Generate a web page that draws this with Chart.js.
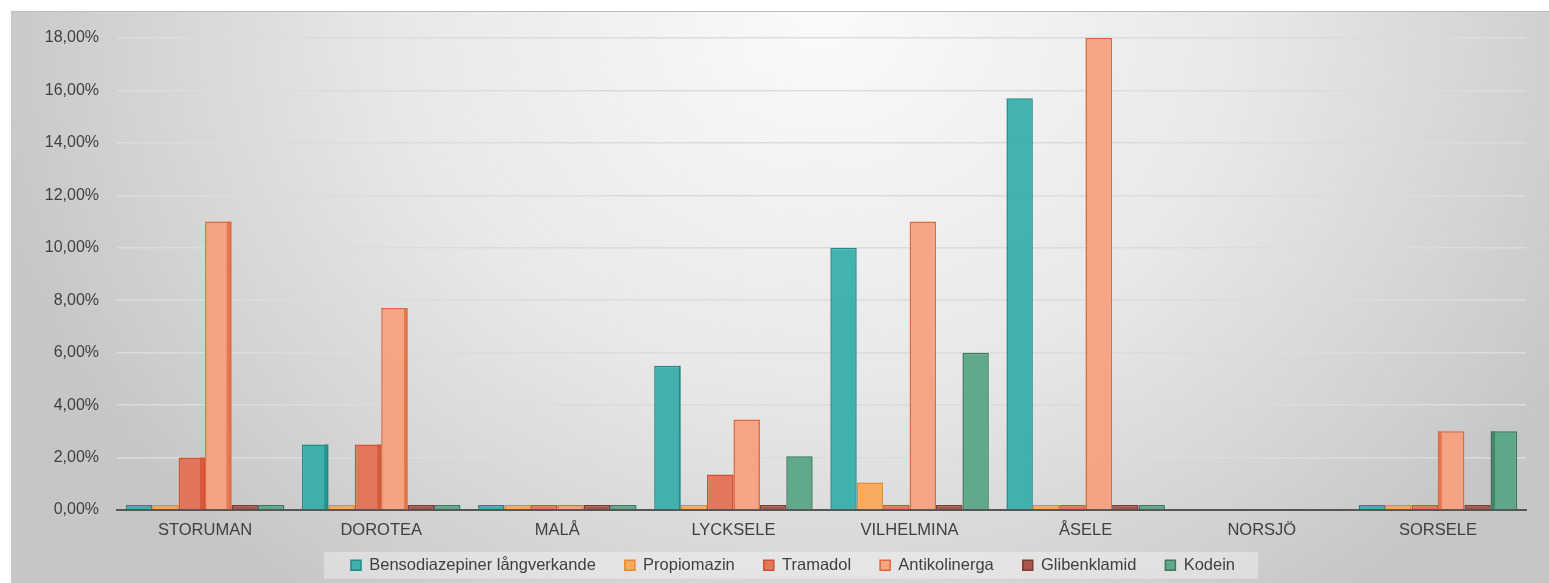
<!DOCTYPE html>
<html>
<head>
<meta charset="utf-8">
<title>Läkemedel per kommun</title>
<script src="https://cdn.jsdelivr.net/npm/chart.js@4.4.1/dist/chart.umd.min.js"></script>
<style>
  html, body { margin: 0; padding: 0; background: #fff; }
  #chart-wrap { width: 1549px; height: 583px; position: relative; }
</style>
</head>
<body>
<div id="chart-wrap"><canvas id="drug-chart"></canvas></div>
<script>
const kommuner = ['STORUMAN', 'DOROTEA', 'MALÅ', 'LYCKSELE', 'VILHELMINA', 'ÅSELE', 'NORSJÖ', 'SORSELE'];

// andel i procent, null = inga uppgifter
const bensodiazepiner = [0, 2.5, 0, 5.5, 10, 15.7, null, 0];
const propiomazin     = [0, 0, 0, 0, 1.05, 0, null, 0];
const tramadol        = [2, 2.5, 0, 1.35, 0, 0, null, 0];
const antikolinerga   = [11, 7.7, 0, 3.45, 11, 18, null, 3];
const glibenklamid    = [0, 0, 0, 0, 0, 0, null, 0];
const kodein          = [0, 0, 0, 2.05, 6, 0, null, 3];

const yTicks = [0, 2, 4, 6, 8, 10, 12, 14, 16, 18];

function serie(label, data, fill, border) {
  return {
    label: label,
    data: data,
    backgroundColor: fill,
    borderColor: border,
    borderWidth: 1.5,
    minBarLength: 5,
    clip: 0,
    categoryPercentage: 0.9,
    barPercentage: 1.0
  };
}

function formatPct(v) {
  return v.toFixed(2).replace('.', ',') + '%';
}

// grå bakgrund med ljus fläck upptill
const bakgrund = {
  id: 'bakgrund',
  afterLayout(chart) {
    // förklaringen centreras under staplarna och lyfts upp lite
    const lg = chart.legend;
    if (!lg) return;
    lg.left += 24.5;
    lg.right += 24.5;
    lg.top = 528;
    lg.bottom = chart.height;
    lg.height = lg.bottom - lg.top;
  },
  beforeDraw(chart) {
    const ctx = chart.ctx;
    const w = chart.width, h = chart.height;
    ctx.save();
    ctx.fillStyle = '#ffffff';
    ctx.fillRect(0, 0, w, h);

    ctx.save();
    ctx.beginPath();
    ctx.rect(11, 11, w - 11, h - 11);
    ctx.clip();
    ctx.translate(820, 20);
    ctx.scale(1, 730 / 850);
    const g = ctx.createRadialGradient(0, 0, 0, 0, 0, 850);
    g.addColorStop(0, '#fafafa');
    g.addColorStop(0.5, '#e8e8e8');
    g.addColorStop(0.8, '#d4d4d4');
    g.addColorStop(1, '#c6c6c6');
    ctx.fillStyle = g;
    ctx.fillRect(-900, -100, 2000, 1000);
    ctx.restore();

    ctx.strokeStyle = '#bdbdbd';
    ctx.lineWidth = 1;
    ctx.beginPath();
    ctx.moveTo(11, 11.5);
    ctx.lineTo(w, 11.5);
    ctx.stroke();

    // ljus ruta bakom förklaringen
    const boxes = chart.legend && chart.legend.legendHitBoxes;
    if (boxes && boxes.length) {
      const first = boxes[0], last = boxes[boxes.length - 1];
      const cy = first.top + first.height / 2;
      ctx.fillStyle = 'rgba(255,255,255,0.35)';
      ctx.fillRect(first.left - 27, cy - 13.5, last.left + last.width - first.left + 50, 27);
    }
    ctx.restore();
  }
};

// mörkare sidokant på staplarna
const sidokant = {
  id: 'sidokant',
  afterDatasetsDraw(chart) {
    const ctx = chart.ctx;
    const area = chart.chartArea;
    const vx = area.left + (area.right - area.left) * 0.56;
    ctx.save();
    ctx.beginPath();
    ctx.rect(area.left, area.top, area.right - area.left, area.bottom - area.top);
    ctx.clip();
    chart.data.datasets.forEach((ds, i) => {
      const meta = chart.getDatasetMeta(i);
      meta.data.forEach((bar, j) => {
        if (!ds.data[j]) return;
        const p = bar.getProps(['x', 'y', 'base', 'width'], true);
        const d = Math.min(5, Math.abs(p.x - vx) / 700 * 5);
        if (d < 1) return;
        ctx.globalAlpha = 0.75;
        ctx.fillStyle = ds.borderColor;
        const left = p.x < vx ? p.x + p.width / 2 - d : p.x - p.width / 2;
        ctx.fillRect(left, p.y, d, p.base - p.y);
      });
    });
    ctx.restore();
  }
};

Chart.defaults.font.family = '"Liberation Sans", Arial, sans-serif';
Chart.defaults.font.size = 16;
Chart.defaults.color = '#404040';

new Chart(document.getElementById('drug-chart'), {
  type: 'bar',
  data: {
    labels: kommuner,
    datasets: [
      serie('Bensodiazepiner långverkande', bensodiazepiner, 'rgba(47,172,167,0.9)', '#1f8a86'),
      serie('Propiomazin', propiomazin, 'rgba(249,168,88,0.95)', '#e9892a'),
      serie('Tramadol', tramadol, 'rgba(229,112,86,0.95)', '#d2502e'),
      serie('Antikolinerga', antikolinerga, 'rgba(246,160,125,0.92)', '#e2683c'),
      serie('Glibenklamid', glibenklamid, 'rgba(163,77,68,0.95)', '#7e3a33'),
      serie('Kodein', kodein, 'rgba(90,165,134,0.95)', '#3b7a5f')
    ]
  },
  options: {
    responsive: true,
    maintainAspectRatio: false,
    animation: false,
    layout: { padding: { left: 11, right: 23, top: 38, bottom: 0 } },
    plugins: {
      tooltip: { enabled: false },
      legend: {
        position: 'bottom',
        maxHeight: 43,
        labels: {
          boxWidth: 10,
          boxHeight: 10,
          padding: 29,
          color: '#404040',
          font: { size: 16.5 }
        }
      }
    },
    scales: {
      x: {
        grid: { display: false, drawTicks: false },
        border: { display: true, color: '#555555', width: 2 },
        ticks: { padding: 11, color: '#404040', font: { size: 16.5 } },
        afterFit(scale) { scale.height = 30; }
      },
      y: {
        min: 0,
        max: 18,
        afterBuildTicks(scale) { scale.ticks = yTicks.map(v => ({ value: v })); },
        grid: { color: '#dcdcdc', lineWidth: 1.5, drawTicks: false },
        border: { display: false },
        ticks: {
          padding: 18,
          color: '#404040',
          font: { size: 16 },
          callback: v => formatPct(v)
        },
        afterFit(scale) { scale.width = 106; }
      }
    }
  },
  plugins: [bakgrund, sidokant]
});
</script>
</body>
</html>
